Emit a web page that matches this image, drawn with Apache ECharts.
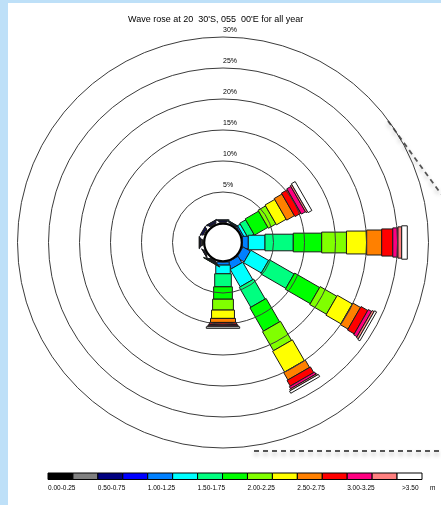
<!DOCTYPE html>
<html>
<head>
<meta charset="utf-8">
<script src="https://cdn.jsdelivr.net/npm/echarts@6/dist/echarts.min.js"></script>
<style>
  html, body { margin: 0; padding: 0; background: #ffffff; }
  #chart { width: 441px; height: 505px; }
</style>
</head>
<body>
<div id="chart"></div>
<script>
// Direction bins, degrees clockwise from north
const directions = [0, 30, 60, 90, 120, 150, 180, 210, 240, 270, 300, 330];

// Significant wave height classes (m) and their colours
const heightClasses = ['0.00-0.25', '0.25-0.50', '0.50-0.75', '0.75-1.00', '1.00-1.25',
  '1.25-1.50', '1.50-1.75', '1.75-2.00', '2.00-2.25', '2.25-2.50', '2.50-2.75',
  '2.75-3.00', '3.00-3.25', '3.25-3.50', '>3.50'];
const classColors = ['#000000', '#808080', '#000080', '#0000ff', '#0080ff',
  '#00ffff', '#00ff80', '#00ff00', '#80ff00', '#ffff00', '#ff8000',
  '#ff0000', '#ff0080', '#ff8080', '#ffffff'];

// Occurrence (%) per height class, one array per direction
const freq000 = [0.05, 0.10, 0.20, 0.10, 0.05, 0, 0, 0, 0, 0, 0, 0, 0, 0, 0];
const freq030 = [0.05, 0.05, 0.05, 0.05, 0.10, 0.05, 0, 0, 0, 0, 0, 0, 0, 0, 0];
const freq060 = [0, 0, 0, 0, 0.25, 0.50, 1.10, 2.50, 1.40, 1.80, 1.45, 1.10, 0.75, 0.30, 0.70];
const freq090 = [0, 0, 0, 0, 0.94, 2.69, 4.56, 4.58, 4.00, 3.26, 2.42, 1.79, 0.84, 0.60, 0.90];
const freq120 = [0, 0, 0, 0, 1.37, 3.30, 4.66, 4.65, 3.11, 2.79, 1.42, 1.26, 0.61, 0.37, 0.37];
const freq150 = [0, 0, 0, 0, 1.21, 3.23, 3.71, 4.35, 3.55, 3.87, 1.37, 1.05, 0.40, 0.24, 0.40];
const freq180 = [0, 0, 0, 0, 0.50, 1.40, 2.10, 2.00, 1.75, 1.35, 0.65, 0.35, 0.20, 0.15, 0.25];
const freq210 = [0.05, 0.10, 0.10, 0.05, 0.10, 0.05, 0.05, 0.05, 0, 0, 0, 0, 0, 0, 0];
const freq240 = [0.05, 0.15, 0.10, 0.05, 0, 0, 0, 0, 0, 0, 0, 0, 0, 0, 0];
const freq270 = [0.15, 0.25, 0.15, 0.10, 0.05, 0, 0, 0, 0, 0, 0, 0, 0, 0, 0];
const freq300 = [0.10, 0.20, 0.25, 0.10, 0, 0, 0, 0, 0, 0, 0, 0, 0, 0, 0];
const freq330 = [0.05, 0.15, 0.20, 0.15, 0.05, 0, 0, 0, 0, 0, 0, 0, 0, 0, 0];

// Percentage rings
const radiusTicks = [0, 5, 10, 15, 20, 25, 30];

const titleText = "Wave rose at 20  30'S, 055  00'E for all year";
const unitText = 'm';

const freqByDirection = [freq000, freq030, freq060, freq090, freq120, freq150,
  freq180, freq210, freq240, freq270, freq300, freq330];

// Stack each direction's classes outward: [angle, from%, to%, classIndex]
const segments = [];
directions.forEach(function (dir, d) {
  let acc = 0;
  freqByDirection[d].forEach(function (v, k) {
    if (v > 0) {
      segments.push([dir, acc, acc + v, k]);
      acc += v;
    }
  });
});

// Segment width grows with the height class
function classWidth(k) { return 4 + 2.1 * k; }

function renderSegment(params, api) {
  const cs = params.coordSys;
  const ang = api.value(0);
  const p0 = api.coord([api.value(1), ang]);
  const p1 = api.coord([api.value(2), ang]);
  const k = api.value(3);
  let ux = p1[0] - cs.cx, uy = p1[1] - cs.cy;
  const len = Math.sqrt(ux * ux + uy * uy) || 1;
  ux /= len; uy /= len;
  const hw = classWidth(k) / 2;
  const nx = -uy * hw, ny = ux * hw;
  return {
    type: 'polygon',
    shape: {
      points: [
        [p0[0] + nx, p0[1] + ny], [p1[0] + nx, p1[1] + ny],
        [p1[0] - nx, p1[1] - ny], [p0[0] - nx, p0[1] - ny]
      ]
    },
    style: { fill: classColors[k], stroke: '#1a1a1a', lineWidth: 1 }
  };
}

function renderHole(params) {
  const cs = params.coordSys;
  return {
    type: 'circle',
    shape: { cx: cs.cx, cy: cs.cy, r: cs.r0 - 0.8 },
    style: { fill: 'none', stroke: '#000000', lineWidth: 2 }
  };
}

// Colour key below the rose
const keyLeft = 48, keyTop = 473, keyWidth = 374, keyHeight = 6.5;
const keyCell = keyWidth / classColors.length;
const keyGraphics = [];
classColors.forEach(function (c, i) {
  keyGraphics.push({
    type: 'rect',
    shape: { x: keyLeft + i * keyCell, y: keyTop, width: keyCell, height: keyHeight },
    style: { fill: c, stroke: '#000000', lineWidth: 1 }
  });
  if (i % 2 === 0) {
    keyGraphics.push({
      type: 'text',
      x: keyLeft + i * keyCell + (i === classColors.length - 1 ? 5 : 0),
      y: keyTop + 15,
      style: {
        text: heightClasses[i], fill: '#000', fontSize: 6.5,
        fontFamily: 'Liberation Sans', verticalAlign: 'middle'
      }
    });
  }
});
keyGraphics.push({
  type: 'text', x: 430, y: keyTop + 15,
  style: { text: unitText, fill: '#000', fontSize: 6.5, fontFamily: 'Liberation Sans', verticalAlign: 'middle' }
});

const frameColor = '#bee0f8';
const dashStyle = {
  stroke: '#555555', lineWidth: 1.8, lineDash: [5, 4],
  shadowBlur: 4, shadowColor: 'rgba(0,0,0,0.3)', shadowOffsetY: 3
};

const chart = echarts.init(document.getElementById('chart'), null, { renderer: 'canvas' });
chart.setOption({
  backgroundColor: '#ffffff',
  animation: false,
  title: {
    text: titleText,
    left: 123,
    top: 10,
    textStyle: { fontSize: 9, fontWeight: 'normal', color: '#000', fontFamily: 'Liberation Sans' }
  },
  polar: { center: [223, 242.5], radius: [19.5, 205.5] },
  angleAxis: {
    type: 'value', min: 0, max: 360, startAngle: 90, clockwise: true,
    axisLine: { show: false }, axisTick: { show: false },
    axisLabel: { show: false }, splitLine: { show: false }
  },
  radiusAxis: {
    type: 'value', min: radiusTicks[0], max: radiusTicks[radiusTicks.length - 1],
    interval: radiusTicks[1] - radiusTicks[0],
    z: 3,
    axisLine: { show: false }, axisTick: { show: false },
    splitLine: { show: true, lineStyle: { color: '#3c3c3c', width: 1 } },
    axisLabel: {
      showMinLabel: false,
      formatter: function (v) { return v + '%'; },
      margin: 0, align: 'left', verticalAlign: 'bottom', padding: [0, 0, 3, 0],
      fontSize: 7, color: '#000', fontFamily: 'Liberation Sans'
    }
  },
  series: [
    {
      type: 'custom', coordinateSystem: 'polar', z: 2,
      renderItem: renderSegment, data: segments, silent: true
    },
    {
      type: 'custom', coordinateSystem: 'polar', z: 4,
      renderItem: renderHole, data: [[0, 0]], silent: true
    }
  ],
  graphic: [
    { type: 'rect', shape: { x: 0, y: 0, width: 441, height: 3 }, style: { fill: frameColor } },
    { type: 'rect', shape: { x: 0, y: 0, width: 8, height: 505 }, style: { fill: frameColor } },
    { type: 'line', shape: { x1: 388, y1: 121, x2: 441, y2: 194 }, style: dashStyle },
    { type: 'line', shape: { x1: 254, y1: 451, x2: 441, y2: 451 }, style: dashStyle }
  ].concat(keyGraphics)
});
</script>
</body>
</html>
